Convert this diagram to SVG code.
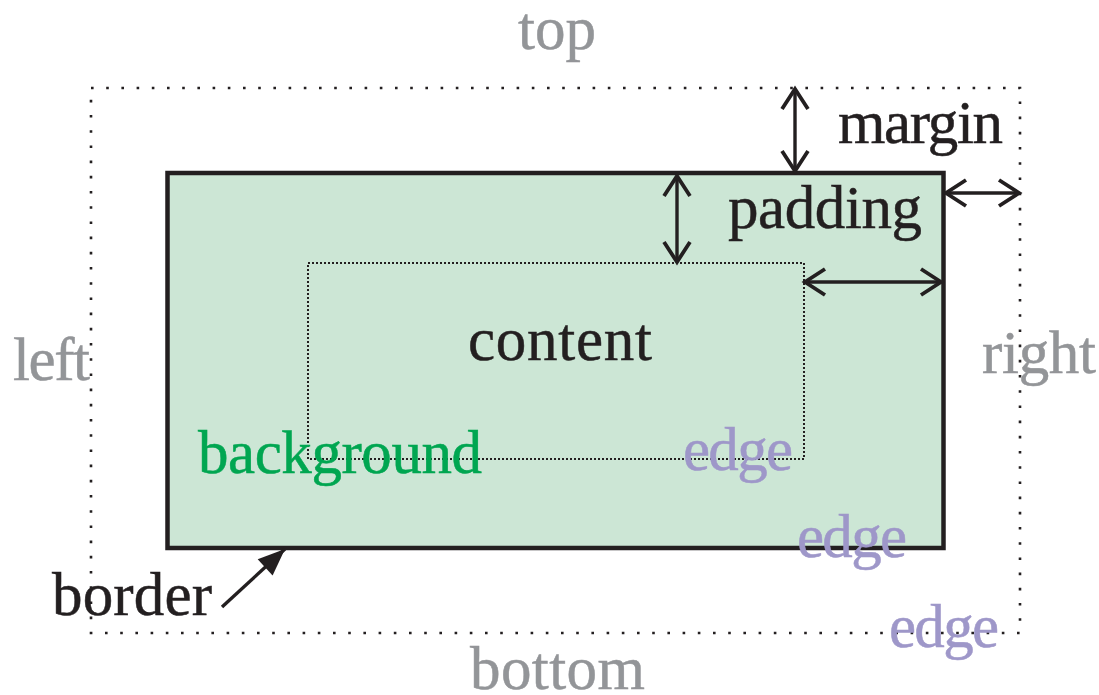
<svg xmlns="http://www.w3.org/2000/svg" width="1099" height="695" viewBox="0 0 1099 695">
<defs>
<style>
text{font-family:"Liberation Serif","Times New Roman",serif;font-size:61px;stroke-width:0.5px}
.k{fill:#231f20;stroke:#231f20}
.g{fill:#939598;stroke:#939598}
.gr{fill:#00a651;stroke:#00a651}
.p{fill:#9e97c9;stroke:#9e97c9}
.arr{stroke:#231f20;stroke-width:3.4;fill:none}
</style>
<marker id="chev" markerUnits="userSpaceOnUse" markerWidth="30" markerHeight="30" viewBox="-24 -15 28 30" refX="0" refY="0" orient="auto-start-reverse" overflow="visible">
<path d="M -20 -13 L 0 0 L -20 13" fill="none" stroke="#231f20" stroke-width="3.8"/>
</marker>
<marker id="tri" markerUnits="userSpaceOnUse" markerWidth="30" markerHeight="30" viewBox="-28 -12 30 24" refX="0" refY="0" orient="auto" overflow="visible">
<path d="M -27 -11 L 0 0 L -27 11 Z" fill="#231f20"/>
</marker>
</defs>
<g id="margin-edge">
<rect x="91" y="88" width="929" height="545" fill="none" stroke="#231f20" stroke-width="2.6" stroke-dasharray="2.6 12.6"/>
</g>
<g id="border-box">
<rect x="167.5" y="173" width="776" height="375" fill="#cce6d5" stroke="#231f20" stroke-width="4.5"/>
</g>
<g id="content-box">
<rect x="308" y="263" width="496" height="196" fill="none" stroke="#231f20" stroke-width="2" stroke-dasharray="2 2"/>
</g>
<g id="connectors" class="arr">
<line x1="795" y1="89" x2="795" y2="171" marker-start="url(#chev)" marker-end="url(#chev)"/>
<line x1="946" y1="193" x2="1019" y2="193" marker-start="url(#chev)" marker-end="url(#chev)"/>
<line x1="677" y1="176" x2="677" y2="262" marker-start="url(#chev)" marker-end="url(#chev)"/>
<line x1="805" y1="282" x2="941" y2="282" marker-start="url(#chev)" marker-end="url(#chev)"/>
<line x1="222" y1="607" x2="285" y2="549" marker-end="url(#tri)"/>
</g>
<g id="labels">
<text class="g" x="518" y="49" textLength="78">top</text>
<text class="g" x="470" y="689" textLength="175">bottom</text>
<text class="g" x="13" y="380" textLength="77">left</text>
<text class="g" x="982" y="373" textLength="114">right</text>
<text class="k" x="838" y="143" textLength="165">margin</text>
<text class="k" x="728" y="228" textLength="194">padding</text>
<text class="k" x="468" y="360" textLength="184">content</text>
<text class="k" x="52" y="615" textLength="160">border</text>
<text class="gr" x="198" y="473" textLength="284">background</text>
<text class="p" x="683" y="470" textLength="110">edge</text>
<text class="p" x="797" y="557" textLength="110">edge</text>
<text class="p" x="889" y="647" textLength="110">edge</text>
</g>
</svg>
